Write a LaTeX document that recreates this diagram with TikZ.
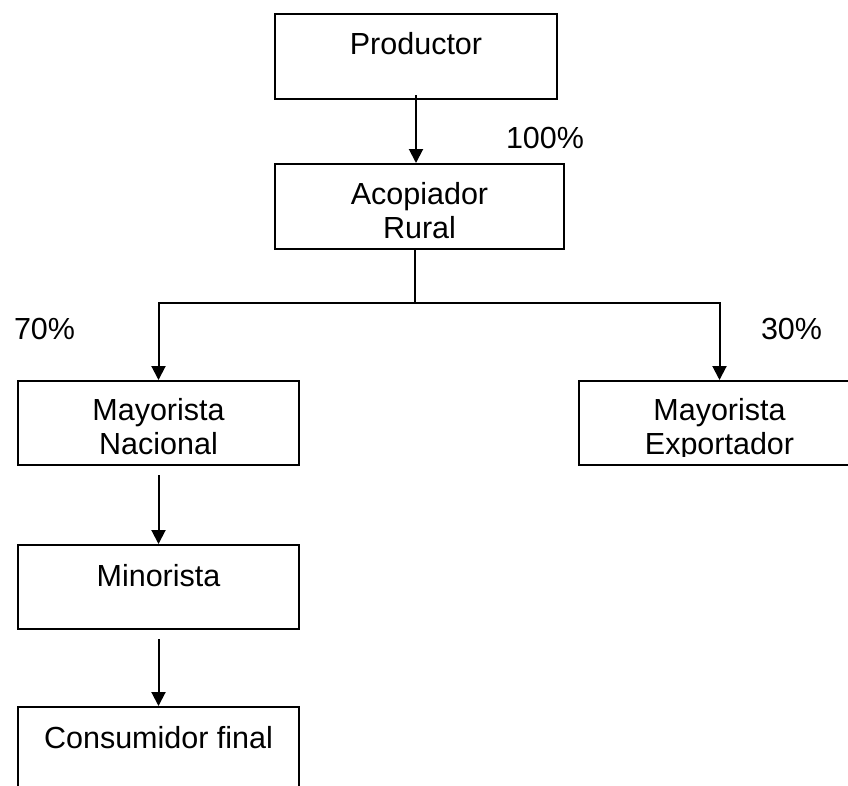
\documentclass[tikz,border=0pt]{standalone}
\usepackage{fontspec}
\setmainfont{Liberation Sans}
\usetikzlibrary{arrows.meta}

\begin{document}
\begin{tikzpicture}[x=1pt,y=-1pt,
  line width=2pt,
  chainbox/.style={draw, rectangle, inner sep=0pt, anchor=north west},
  boxtext/.style={anchor=north, inner sep=0pt, align=center,
    font=\fontsize{30.5}{34.5}\selectfont},
  share/.style={anchor=base west, inner sep=0pt,
    font=\fontsize{30.5}{34.5}\selectfont},
  flow/.style={-{Triangle[width=14pt,length=14pt]}},
]
\useasboundingbox (0,0) rectangle (848,785);

% boxes of the marketing chain
\node[chainbox, minimum width=282pt, minimum height=85pt] (prod) at (274,13) {};
\node[chainbox, minimum width=289pt, minimum height=85pt] (acop) at (274,163) {};
\node[chainbox, minimum width=281pt, minimum height=84pt] (nac)  at (17,380) {};
\node[chainbox, minimum width=281pt, minimum height=84pt] (expo) at (578,380) {};
\node[chainbox, minimum width=281pt, minimum height=84pt] (mino) at (17,544) {};
\node[chainbox, minimum width=281pt, minimum height=95pt] (cons) at (17,706) {};

% box labels, set near the top edge
\node[boxtext] (prodT) at ([yshift=-18pt]prod.north) {Productor};
\node[boxtext] (acopT) at ([yshift=-18pt]acop.north) {Acopiador\\Rural};
\node[boxtext] (nacT)  at ([yshift=-17pt]nac.north)  {Mayorista\\Nacional};
\begin{scope}
  \clip (expo.north west) rectangle ([yshift=10pt]expo.south east);
  \node[boxtext] (expoT) at ([yshift=-17pt]expo.north) {Mayorista\\Exportador};
\end{scope}
\node[boxtext] (minoT) at ([yshift=-19pt]mino.north) {Minorista};
\node[boxtext] (consT) at ([yshift=-19pt]cons.north) {Consumidor final};

% shares
\node[share] (p100) at (505,148) {100\%};
\node[share] (p70)  at (13,339)  {70\%};
\node[share] (p30)  at (760,339) {30\%};

% connectors
\draw[flow] ([yshift=5pt]prod.south) -- (prod.south |- acop.north);
\coordinate (fork) at (415,303);
\draw (acop.south -| fork) -- (fork);
\draw[flow] (fork) -| (nac.north);
\draw[flow] (fork) -| (expo.north);
\draw[flow, shorten <=9pt] (nac.south) -- (mino.north);
\draw[flow, shorten <=9pt] (mino.south) -- (cons.north);
\end{tikzpicture}
\end{document}
